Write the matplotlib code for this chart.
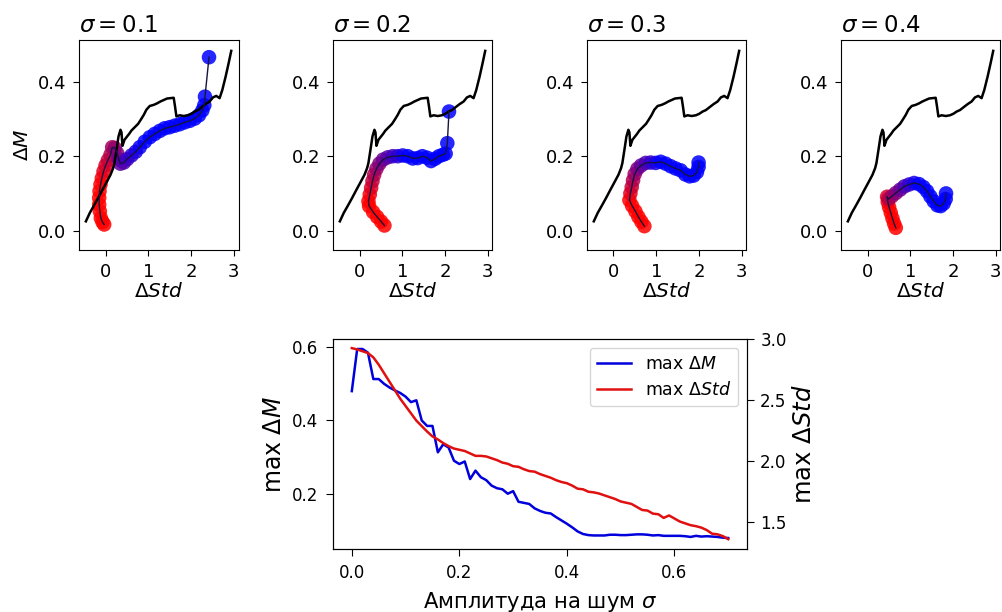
import numpy as np
import matplotlib
matplotlib.use("Agg")
import matplotlib.pyplot as plt

# ---------------- data ----------------
sigma_titles = ["0.1", "0.2", "0.3", "0.4"]

# reference (black) curve, same in every top panel
ref_std = [-0.46, -0.367, -0.273, -0.172, -0.071, 0.023, 0.116, 0.178, 0.209, 0.256,
           0.303, 0.349, 0.373, 0.396, 0.443, 0.49, 0.552, 0.606, 0.684, 0.762,
           0.824, 0.894, 0.956, 1.034, 1.128, 1.205, 1.283, 1.361, 1.439, 1.517,
           1.594, 1.626, 1.657, 1.735, 1.828, 1.929, 2.007, 2.085, 2.163, 2.24,
           2.342, 2.435, 2.513, 2.59, 2.668, 2.731, 2.809, 2.879, 2.94]
ref_m = [0.025, 0.048, 0.067, 0.088, 0.11, 0.13, 0.15, 0.168, 0.182, 0.217,
         0.253, 0.271, 0.264, 0.228, 0.244, 0.251, 0.26, 0.269, 0.278, 0.287,
         0.298, 0.311, 0.325, 0.335, 0.338, 0.342, 0.347, 0.351, 0.355, 0.356,
         0.357, 0.333, 0.307, 0.31, 0.308, 0.31, 0.314, 0.32, 0.324, 0.331,
         0.34, 0.347, 0.358, 0.362, 0.356, 0.378, 0.414, 0.45, 0.483]

# trajectories for sigma = 0.1 .. 0.4
std_01 = [-0.032, -0.071, -0.110, -0.133, -0.149, -0.149, -0.141, -0.118, -0.086, -0.047,
          0.0, 0.054, 0.116, 0.155, 0.217, 0.272, 0.31, 0.349, 0.427, 0.505,
          0.606, 0.707, 0.80, 0.917, 1.034, 1.151, 1.268, 1.384, 1.50, 1.618,
          1.735, 1.851, 1.968, 2.085, 2.186, 2.264, 2.31, 2.326, 2.42]
m_01 = [0.0165, 0.023, 0.034, 0.052, 0.070, 0.088, 0.106, 0.124, 0.141, 0.159,
        0.175, 0.189, 0.204, 0.224, 0.222, 0.208, 0.192, 0.18, 0.183, 0.192,
        0.202, 0.212, 0.224, 0.239, 0.251, 0.26, 0.268, 0.275, 0.278, 0.282,
        0.286, 0.291, 0.295, 0.301, 0.31, 0.323, 0.337, 0.36, 0.466]

std_02 = [0.583, 0.505, 0.412, 0.318, 0.225, 0.209, 0.24, 0.272, 0.303, 0.342,
          0.396, 0.466, 0.552, 0.661, 0.777, 0.894, 1.011, 1.128, 1.244, 1.361,
          1.47, 1.579, 1.672, 1.766, 1.859, 1.952, 2.015, 2.054, 2.093]
m_02 = [0.0138, 0.0245, 0.037, 0.050, 0.066, 0.079, 0.097, 0.115, 0.133, 0.150,
        0.166, 0.18, 0.191, 0.197, 0.2, 0.2, 0.202, 0.2, 0.194, 0.195,
        0.2, 0.196, 0.187, 0.193, 0.2, 0.204, 0.207, 0.235, 0.32]

std_03 = [0.723, 0.653, 0.583, 0.513, 0.435, 0.373, 0.396, 0.427, 0.458, 0.497,
          0.56, 0.645, 0.754, 0.871, 0.988, 1.104, 1.221, 1.338, 1.454, 1.571,
          1.68, 1.781, 1.875, 1.952, 1.991, 1.991]
m_03 = [0.012, 0.024, 0.037, 0.052, 0.067, 0.082, 0.1, 0.117, 0.135, 0.152,
        0.166, 0.175, 0.182, 0.183, 0.182, 0.185, 0.18, 0.173, 0.167, 0.162,
        0.151, 0.146, 0.148, 0.157, 0.171, 0.183]

std_04 = [0.661, 0.622, 0.583, 0.544, 0.505, 0.474, 0.458, 0.49, 0.567, 0.661,
          0.762, 0.863, 0.972, 1.089, 1.205, 1.307, 1.392, 1.47, 1.548, 1.633,
          1.711, 1.781, 1.828, 1.836]
m_04 = [0.0076, 0.019, 0.033, 0.048, 0.063, 0.077, 0.091, 0.085, 0.092, 0.101,
        0.11, 0.119, 0.124, 0.128, 0.125, 0.117, 0.106, 0.092, 0.079, 0.068,
        0.066, 0.073, 0.085, 0.1]

traj_std = [std_01, std_02, std_03, std_04]
traj_m = [m_01, m_02, m_03, m_04]

# bottom panel
noise_amp = [round(0.01 * i, 2) for i in range(71)]
max_dm = [0.48, 0.595, 0.595, 0.585, 0.513, 0.513, 0.50, 0.49, 0.482, 0.475,
          0.465, 0.45, 0.455, 0.40, 0.385, 0.385, 0.313, 0.335, 0.326, 0.29,
          0.281, 0.288, 0.24, 0.263, 0.245, 0.237, 0.222, 0.215, 0.212, 0.200,
          0.207, 0.178, 0.175, 0.172, 0.16, 0.153, 0.148, 0.146, 0.136, 0.127,
          0.118, 0.108, 0.097, 0.09, 0.087, 0.086, 0.086, 0.086, 0.088, 0.088,
          0.087, 0.087, 0.088, 0.089, 0.089, 0.088, 0.086, 0.087, 0.085, 0.085,
          0.085, 0.085, 0.084, 0.082, 0.085, 0.083, 0.084, 0.083, 0.082, 0.080,
          0.079]
max_dstd = [2.926, 2.915, 2.90, 2.885, 2.85, 2.79, 2.72, 2.65, 2.58, 2.51,
            2.45, 2.39, 2.33, 2.285, 2.24, 2.20, 2.175, 2.145, 2.12, 2.10,
            2.09, 2.08, 2.06, 2.04, 2.04, 2.035, 2.02, 2.005, 1.985, 1.975,
            1.955, 1.95, 1.93, 1.915, 1.91, 1.89, 1.875, 1.86, 1.84, 1.825,
            1.815, 1.795, 1.77, 1.765, 1.745, 1.74, 1.73, 1.715, 1.70, 1.685,
            1.665, 1.655, 1.645, 1.62, 1.595, 1.59, 1.565, 1.56, 1.53, 1.55,
            1.525, 1.50, 1.485, 1.47, 1.462, 1.45, 1.43, 1.40, 1.395, 1.38,
            1.355]

# ---------------- figure ----------------
fig = plt.figure(figsize=(10.03, 6.12), dpi=100)

top_lefts = [0.0788, 0.332, 0.5852, 0.8385]
for k in range(4):
    ax = fig.add_axes([top_lefts[k], 0.5915, 0.1590, 0.343])
    ax.plot(ref_std, ref_m, color="black", lw=1.8, zorder=3)
    xs = np.array(traj_std[k])
    ys = np.array(traj_m[k])
    n = len(xs)
    t = np.linspace(0, 1, n)
    c = np.clip((t - 0.2) / 0.4, 0, 1)
    cols = np.column_stack([1 - c, np.zeros(n), c])
    ax.scatter(xs, ys, c=cols, s=110, alpha=0.85, linewidths=0, zorder=2)
    ax.plot(xs, ys, color="#14143c", lw=1.0, zorder=4)
    ax.set_xlim(-0.62, 3.11)
    ax.set_ylim(-0.052, 0.512)
    ax.set_xticks([0, 1, 2, 3])
    ax.set_yticks([0.0, 0.2, 0.4])
    ax.tick_params(labelsize=13, length=4.5, pad=4.5)
    ax.set_title(r"$\sigma = %s$" % sigma_titles[k], fontsize=16.5, loc="left")
    ax.set_xlabel(r"$\Delta Std$", fontsize=14.5, labelpad=1)
    if k == 0:
        ax.set_ylabel(r"$\Delta M$", fontsize=14.5)

axb = fig.add_axes([0.332, 0.1029, 0.4128, 0.343])
l1, = axb.plot(noise_amp, max_dm, color="#0000dd", lw=1.8)
axb.set_xlabel(r"Амплитуда на шум $\sigma$", fontsize=15.2, labelpad=6)
axb.set_ylabel(r"max $\Delta M$", fontsize=17)
axb.set_xticks([0.0, 0.2, 0.4, 0.6])
axb.set_yticks([0.2, 0.4, 0.6])
axb.tick_params(labelsize=12, length=5, pad=5.5)
axr = axb.twinx()
l2, = axr.plot(noise_amp, max_dstd, color="#e01010", lw=1.8)
axr.set_ylabel(r"max $\Delta Std$", fontsize=17.5)
axr.set_yticks([1.5, 2.0, 2.5, 3.0])
axr.tick_params(labelsize=12, length=5, pad=4.5)
axr.set_ylim(1.274, 3.0)
axb.set_ylim(0.049, 0.622)
axb.legend([l1, l2], [r"max $\Delta M$", r"max $\Delta Std$"], loc="upper right", fontsize=12.5)

fig.savefig("out.png", dpi=100)
